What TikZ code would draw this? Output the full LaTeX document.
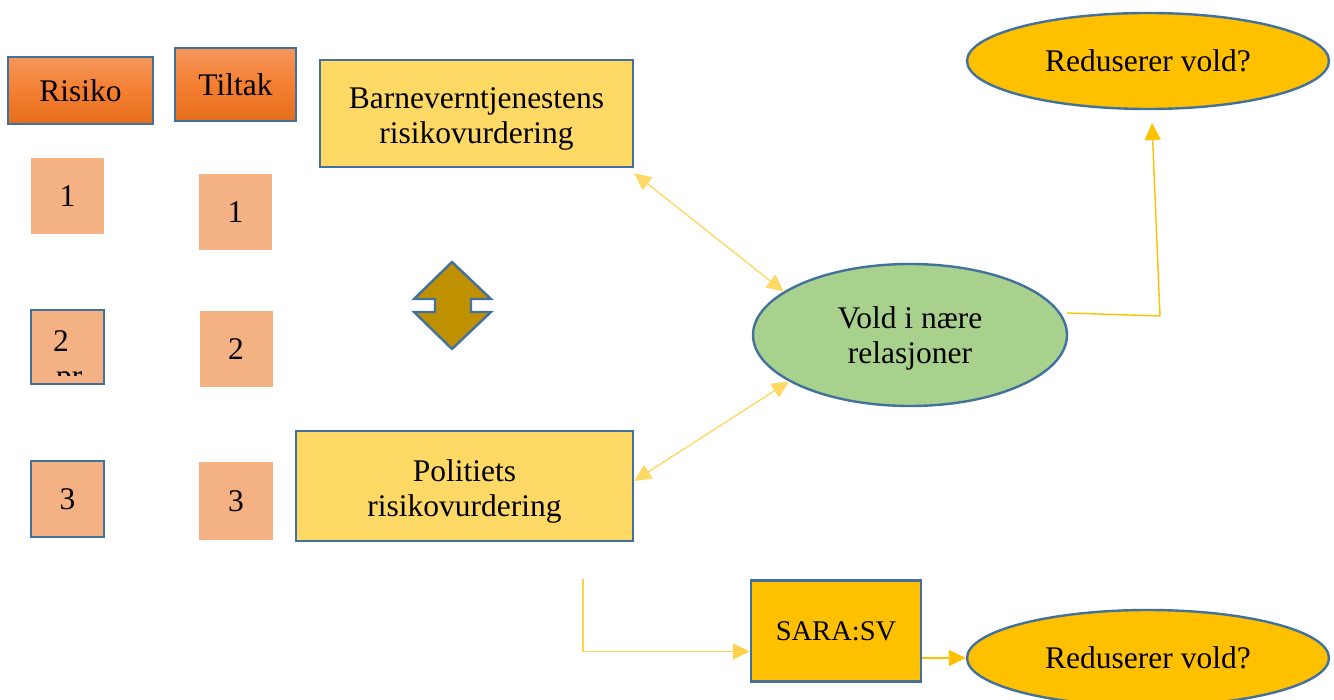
\documentclass[tikz,border=0pt]{standalone}
\usepackage{fontspec}
\setmainfont{Liberation Serif}
\usetikzlibrary{shapes.geometric,arrows.meta}
\definecolor{bord}{HTML}{41719C}
\definecolor{orgtop}{HTML}{F4965C}
\definecolor{orgmid}{HTML}{F47F31}
\definecolor{orgbot}{HTML}{E56E1C}
\definecolor{peach}{HTML}{F4B183}
\definecolor{lyell}{HTML}{FFD966}
\definecolor{gold}{HTML}{FFC000}
\definecolor{dgold}{HTML}{BF9000}
\definecolor{lgreen}{HTML}{A9D18E}
\definecolor{midyell}{HTML}{FFD24D}
\begin{document}
\begin{tikzpicture}[x=1pt,y=-1pt,
  txt/.style={font=\fontsize{31.5}{35}\selectfont, align=center, inner sep=0pt},
  headbox/.style={txt, draw=bord, line width=2.4pt, top color=orgtop, bottom color=orgbot, middle color=orgmid},
  numbox/.style={txt, fill=peach, minimum width=73pt, minimum height=76pt},
  numboxb/.style={numbox, draw=bord, line width=2.4pt},
  ybox/.style={txt, draw=bord, line width=2.4pt, fill=lyell},
  goldell/.style={txt, ellipse, draw=bord, line width=2.4pt, fill=gold, minimum width=362pt, minimum height=96pt},
  tip/.style={-{Triangle[length=17pt,width=16pt]}},
  dtip/.style={{Triangle[length=17pt,width=16pt]}-{Triangle[length=17pt,width=16pt]}},
]
\useasboundingbox (0,0) rectangle (1334,700);

% header boxes
\node[headbox, minimum width=145pt, minimum height=67pt] (risiko) at (80.5,90.5) {Risiko};
\node[headbox, minimum width=121pt, minimum height=73pt] (tiltak) at (235.5,84.5) {Tiltak};

% number boxes
\node[numbox] (r1) at (67.5,196) {1};
\node[numbox] (t1) at (235.5,212) {1};
\node[numboxb, minimum height=74pt] (r2) at (67.5,347) {};
\begin{scope}
  \clip (33,312) rectangle (102,376);
  \node[txt, anchor=base west] (r2a) at (53,352) {2};
  \node[txt, anchor=base west] (r2b) at (56,387) {pr};
\end{scope}
\node[numbox] (t2) at (236,349) {2};
\node[numboxb] (r3) at (67.5,499) {3};
\node[numbox, minimum width=74pt, minimum height=78pt] (t3) at (236,501) {3};

% up-down arrow
\filldraw[fill=dgold, draw=bord, line width=2.4pt]
  (452,262) -- (491,299) -- (471,299) -- (471,312) -- (491,312) -- (452,349)
  -- (414,312) -- (435,312) -- (435,299) -- (414,299) -- cycle;

% yellow boxes
\node[ybox, minimum width=313pt, minimum height=107pt] (barn) at (476.5,113.5) {};
\node[txt] (barnt) at (476.5,119) {Barneverntjenestens\\risikovurdering};
\node[ybox, minimum width=337pt, minimum height=110pt] (poli) at (464.5,486) {};
\node[txt] (polit) at (464.5,491) {Politiets\\risikovurdering};

% ellipses
\node[txt, ellipse, draw=bord, line width=2.4pt, fill=lgreen, minimum width=314pt, minimum height=142pt] (vold) at (910,335) {};
\node[txt] (voldt) at (910,338) {Vold i nære\\relasjoner};
\node[goldell] (redtop) at (1148,61) {Reduserer vold?};
\node[goldell] (redbot) at (1148,658) {Reduserer vold?};

% SARA box
\node[txt, draw=bord, line width=2.4pt, fill=gold, minimum width=170pt, minimum height=101pt, font=\fontsize{28.5}{33}\selectfont] (sara) at (836,631) {SARA:SV};

% connectors
\draw[dtip, lyell, line width=1.4pt] ([yshift=-5pt]barn.south east) -- (vold.161);
\draw[dtip, lyell, line width=1.4pt] ([yshift=5pt]poli.east) -- (vold.201);

\coordinate (c1) at (1067,313);
\coordinate (c2) at (1160,316);
\coordinate (c3) at (1152,123);
\draw[tip, gold, line width=1.4pt] (c1) -- (c2) -- (c3);

\coordinate (c4) at (583,579);
\draw[tip, midyell, line width=1.4pt] (c4) |- ([yshift=-20.5pt]sara.west);
\draw[tip, gold, line width=1.4pt] (sara.east |- redbot.west) -- (redbot.west);
\end{tikzpicture}
\end{document}
